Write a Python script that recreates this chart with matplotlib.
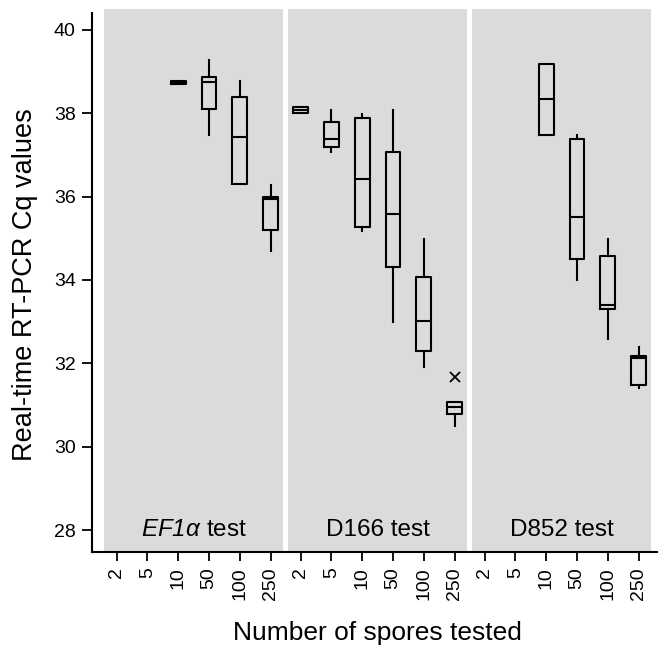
import matplotlib
matplotlib.use('Agg')
import matplotlib.pyplot as plt
from matplotlib.lines import Line2D

plt.rcParams['font.family'] = ['Liberation Sans', 'DejaVu Sans']
plt.rcParams['mathtext.fontset'] = 'custom'
plt.rcParams['mathtext.rm'] = 'Liberation Sans:italic'
plt.rcParams['mathtext.it'] = 'Liberation Sans:italic'

# ---------------- data ----------------
doses = ['2', '5', '10', '50', '100', '250']
panel_titles = [r'$\mathit{EF1α}$ test', 'D166 test', 'D852 test']

# EF1α test (None = no box)
ef_whislo = [None, None, 38.71, 37.48, 36.30, 34.70]
ef_q1     = [None, None, 38.71, 38.10, 36.30, 35.20]
ef_med    = [None, None, 38.74, 38.74, 37.44, 35.94]
ef_q3     = [None, None, 38.77, 38.88, 38.38, 35.98]
ef_whishi = [None, None, 38.77, 39.28, 38.78, 36.28]
ef_fliers = [[], [], [], [], [], []]

# D166 test
d166_whislo = [38.00, 37.08, 35.18, 33.00, 31.90, 30.50]
d166_q1     = [38.00, 37.18, 35.28, 34.32, 32.30, 30.78]
d166_med    = [38.08, 37.39, 36.42, 35.58, 33.02, 30.96]
d166_q3     = [38.16, 37.78, 37.88, 37.08, 34.08, 31.08]
d166_whishi = [38.16, 38.08, 37.98, 38.08, 34.98, 31.08]
d166_fliers = [[], [], [], [], [], [31.68]]

# D852 test
d852_whislo = [None, None, 37.48, 34.00, 32.58, 31.40]
d852_q1     = [None, None, 37.48, 34.50, 33.30, 31.48]
d852_med    = [None, None, 38.34, 35.52, 33.40, 32.12]
d852_q3     = [None, None, 39.18, 37.38, 34.58, 32.18]
d852_whishi = [None, None, 39.18, 37.48, 34.98, 32.38]
d852_fliers = [[], [], [], [], [], []]

yticks = [28, 30, 32, 34, 36, 38, 40]

panels_data = [
    (ef_whislo, ef_q1, ef_med, ef_q3, ef_whishi, ef_fliers),
    (d166_whislo, d166_q1, d166_med, d166_q3, d166_whishi, d166_fliers),
    (d852_whislo, d852_q1, d852_med, d852_q3, d852_whishi, d852_fliers),
]

# ---------------- layout ----------------
W, H = 660, 647
fig = plt.figure(figsize=(W / 100, H / 100), dpi=100)

panel_left_px = [104.3, 288.3, 472.3]
panel_w_px = 178.4
top_px, bot_px = 9.0, 551.7
ylim = (27.48, 40.50)
xlim = (-0.40, 5.39)
gray = '#dbdbdb'
lw = 1.5
tick_fs = 14

axes = []
for i, lp in enumerate(panel_left_px):
    ax = fig.add_axes([lp / W, (H - bot_px) / H, panel_w_px / W, (bot_px - top_px) / H])
    ax.set_facecolor(gray)
    ax.set_xlim(*xlim)
    ax.set_ylim(*ylim)
    for s in ax.spines.values():
        s.set_visible(False)

    whislo, q1, med, q3, whishi, fliers = panels_data[i]
    stats, pos = [], []
    for k in range(len(doses)):
        if med[k] is None:
            continue
        stats.append(dict(whislo=whislo[k], q1=q1[k], med=med[k], q3=q3[k],
                          whishi=whishi[k], fliers=fliers[k]))
        pos.append(k)
    ax.bxp(stats, positions=pos, widths=0.48, showcaps=False, manage_ticks=False,
           boxprops=dict(color='black', linewidth=lw),
           medianprops=dict(color='black', linewidth=lw),
           whiskerprops=dict(color='black', linewidth=lw),
           flierprops=dict(marker='x', markeredgecolor='black', markersize=7,
                           markeredgewidth=1.3, linestyle='none'))

    ax.set_xticks(range(len(doses)))
    ax.set_xticklabels(doses, rotation=90, fontsize=tick_fs)
    ax.tick_params(axis='x', direction='out', length=6.2, width=1.3, pad=5, colors='black')
    ax.text(0.5 * (xlim[0] + xlim[1]), 27.86, panel_titles[i], ha='center',
            va='baseline', fontsize=17.5)

    if i == 0:
        sp = ax.spines['left']
        sp.set_visible(True)
        sp.set_position(('outward', 12 * 72 / 100))
        sp.set_bounds(ylim[0], 40.41)
        sp.set_linewidth(lw)
        ax.set_yticks(yticks)
        ax.set_yticklabels([str(t) for t in yticks], fontsize=tick_fs)
        ax.tick_params(axis='y', direction='out', length=7, width=1.3, pad=5)
    else:
        ax.set_yticks([])
    axes.append(ax)

# continuous bottom axis line
fig.add_artist(Line2D([92.3 / W, 656.5 / W], [(H - bot_px) / H] * 2,
                      color='black', linewidth=lw, transform=fig.transFigure))

fig.text(377.5 / W, (H - 640) / H, 'Number of spores tested', ha='center',
         va='baseline', fontsize=19)
fig.text(25 / W, 1 - 285 / H, 'Real-time RT-PCR Cq values', rotation=90,
         ha='center', va='center', fontsize=19.5)

fig.savefig('out.png', dpi=100)
